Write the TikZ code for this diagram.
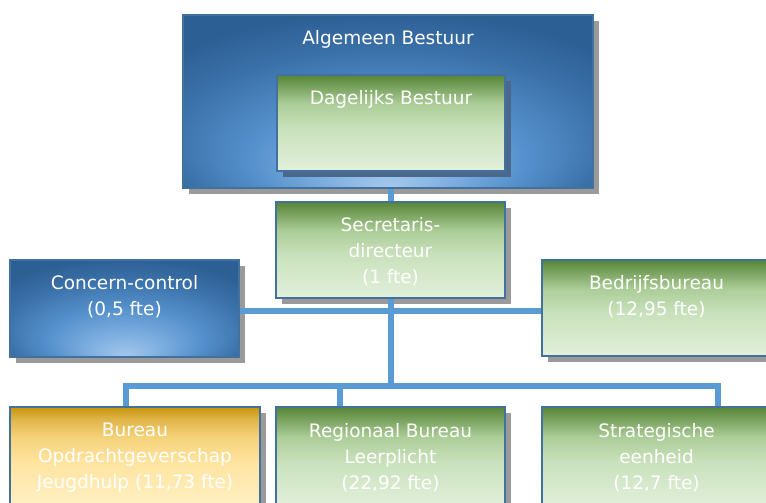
\documentclass[tikz,border=0pt]{standalone}
\usepackage{fontspec}
\setmainfont{DejaVu Sans}
\usetikzlibrary{shadows}
\definecolor{bord}{HTML}{41719C}
\definecolor{conncol}{HTML}{5B9BD5}
\definecolor{shadowgray}{HTML}{9A9A9A}
\definecolor{shadowblue}{HTML}{4A688C}
\definecolor{bla}{HTML}{A4C8EC}
\definecolor{blb}{HTML}{7DAEE0}
\definecolor{blc}{HTML}{5590CC}
\definecolor{bld}{HTML}{3A70A8}
\definecolor{ble}{HTML}{2C5F94}
\definecolor{gra}{HTML}{E2F0DB}
\definecolor{grb}{HTML}{C9E1BC}
\definecolor{grc}{HTML}{ACCD98}
\definecolor{grd}{HTML}{79A15E}
\definecolor{gre}{HTML}{568636}
\definecolor{yla}{HTML}{FFF0C4}
\definecolor{ylb}{HTML}{FFE4A0}
\definecolor{ylc}{HTML}{F5D27A}
\definecolor{yld}{HTML}{E0B448}
\definecolor{yle}{HTML}{C6940A}
\pgfdeclareradialshading{blueglow}{\pgfpoint{0bp}{-25bp}}{color(0bp)=(bla); color(8bp)=(blb); color(17bp)=(blc); color(27bp)=(bld); color(34bp)=(ble); color(50bp)=(ble)}
\pgfdeclareverticalshading{greenfade}{100bp}{color(0bp)=(gra); color(25bp)=(gra); color(47.5bp)=(grb); color(60bp)=(grc); color(69bp)=(grd); color(75bp)=(gre); color(100bp)=(gre)}
\pgfdeclareverticalshading{yellowfade}{100bp}{color(0bp)=(yla); color(25bp)=(yla); color(47.5bp)=(ylb); color(60bp)=(ylc); color(69bp)=(yld); color(75bp)=(yle); color(100bp)=(yle)}
\tikzset{
  boxbase/.style={draw=bord, line width=2pt, inner sep=0pt, shade},
  grayshadow/.style={drop shadow={shadow xshift=6pt, shadow yshift=-6pt, fill=shadowgray, opacity=1}},
  blueshadow/.style={drop shadow={shadow xshift=6pt, shadow yshift=-6pt, fill=shadowblue, opacity=1}},
  bluebox/.style={boxbase, shading=blueglow, grayshadow},
  greenbox/.style={boxbase, shading=greenfade, grayshadow},
  innerbox/.style={boxbase, shading=greenfade, blueshadow},
  yellowbox/.style={boxbase, shading=yellowfade, grayshadow},
  txt/.style={text=white, align=center, font=\fontsize{18.5}{26}\selectfont, inner sep=0pt, anchor=north},
  connector/.style={draw=conncol, line width=6pt, line join=miter}
}
\begin{document}
\begin{tikzpicture}[x=1pt, y=-1pt]
\useasboundingbox (0,0) rectangle (766,503);
\clip (0,0) rectangle (766,503);
% boxes
\node[bluebox, minimum width=410pt, minimum height=173pt] (ab) at (388,101.5) {};
\node[txt] (abt) at ([yshift=-16pt]ab.north) {Algemeen Bestuur};
\node[innerbox, minimum width=228pt, minimum height=96pt] (db) at (391,123) {};
\node[txt] (dbt) at ([yshift=-16pt]db.north) {Dagelijks Bestuur};
\node[greenbox, minimum width=229pt, minimum height=96pt] (sec) at (390.5,250) {};
\node[txt] (sect) at ([yshift=-16pt]sec.north) {Secretaris-\\directeur\\(1 fte)};
\node[bluebox, minimum width=229pt, minimum height=97pt] (cc) at (124.5,308.5) {};
\node[txt] (cct) at ([yshift=-16pt]cc.north) {Concern-control\\(0,5 fte)};
\node[greenbox, minimum width=229pt, minimum height=96pt] (bb) at (656.5,308) {};
\node[txt] (bbt) at ([yshift=-16pt]bb.north) {Bedrijfsbureau\\(12,95 fte)};
\node[yellowbox, minimum width=250pt, minimum height=100pt] (bo) at (135,457) {};
\node[txt] (bot) at ([yshift=-17pt]bo.north) {Bureau\\Opdrachtgeverschap\\Jeugdhulp (11,73 fte)};
\node[greenbox, minimum width=229pt, minimum height=100pt] (rb) at (390.5,457) {};
\node[txt] (rbt) at ([yshift=-17pt]rb.north) {Regionaal Bureau\\Leerplicht\\(22,92 fte)};
\node[greenbox, minimum width=229pt, minimum height=100pt] (se) at (656.5,457) {};
\node[txt] (set) at ([yshift=-17pt]se.north) {Strategische\\eenheid\\(12,7 fte)};
% junction points
\coordinate (m1) at (390.5,311);
\coordinate (j1) at (126,385.5);
\coordinate (j2) at (340,385.5);
\coordinate (j3) at (718,385.5);
\coordinate (j0) at (390.5,385.5);
% connectors
\draw[connector] (sec.north) -- (sec.north |- ab.south);
\draw[connector] (sec.south) -- (j0);
\draw[connector] (cc.east |- m1) -- (bb.west |- m1);
\draw[connector] (j1 |- bo.north) -- (j1) -- (j3) -- (j3 |- se.north);
\draw[connector] (j2) -- (j2 |- rb.north);
\end{tikzpicture}
\end{document}
